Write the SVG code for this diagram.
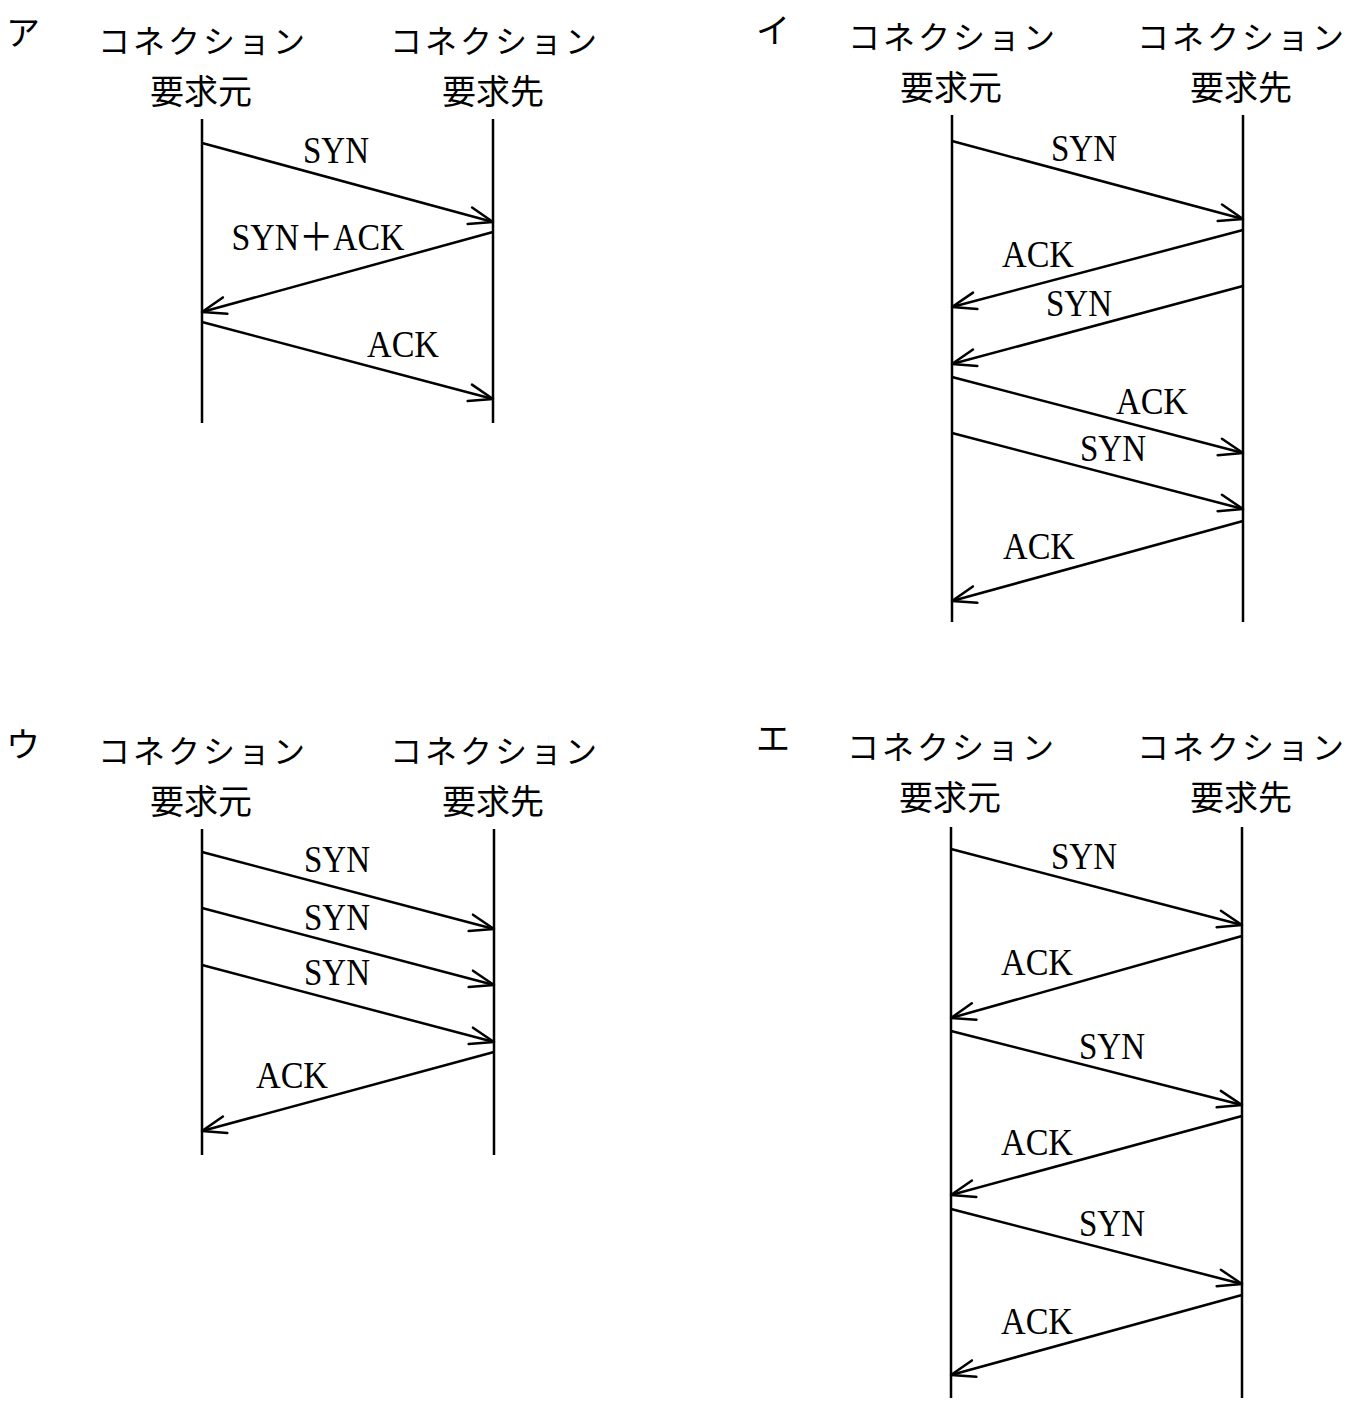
<svg xmlns="http://www.w3.org/2000/svg" width="1350" height="1414" viewBox="0 0 1350 1414">
<style>
.jp{font-family:"Noto Sans CJK JP","Noto Sans CJK SC",sans-serif;fill:#000}
.hk{font-size:32px;letter-spacing:3px;text-anchor:middle}
.hn{font-size:34px;text-anchor:middle}
.pl{font-size:34px}
.lbl{font-family:"Liberation Serif","Noto Sans CJK JP",serif;font-size:38px;text-anchor:middle;fill:#000}
.life{stroke:#000;stroke-width:2.5;fill:none}
.msg{stroke:#000;stroke-width:2.5;fill:none;marker-end:url(#ah)}
</style>
<defs>
<marker id="ah" markerUnits="userSpaceOnUse" markerWidth="40" markerHeight="40" refX="0" refY="0" orient="auto" overflow="visible">
<path d="M-24,-8.5 L0,0 L-24,8.5" fill="none" stroke="#000" stroke-width="2.5" stroke-linejoin="round" stroke-linecap="round"/>
</marker>
</defs>
<rect width="1350" height="1414" fill="#fff"/>

<!-- Panel ア -->
<g id="panel-a">
<text class="jp pl" x="6" y="45">ア</text>
<g id="a-src">
<text class="jp hk" x="203" y="53">コネクション</text>
<text class="jp hn" x="201" y="104">要求元</text>
<line class="life" x1="202" y1="119" x2="202" y2="423"/>
</g>
<g id="a-dst">
<text class="jp hk" x="495" y="53">コネクション</text>
<text class="jp hn" x="493" y="104">要求先</text>
<line class="life" x1="493" y1="119" x2="493" y2="423"/>
</g>
<g id="a-connectors">
<line class="msg" x1="202" y1="143" x2="493" y2="222"/>
<text class="lbl" x="336" y="163" textLength="66" lengthAdjust="spacingAndGlyphs">SYN</text>
<line class="msg" x1="493" y1="232" x2="202" y2="312"/>
<text class="lbl" x="318" y="250" textLength="173" lengthAdjust="spacingAndGlyphs">SYN＋ACK</text>
<line class="msg" x1="202" y1="322" x2="493" y2="399"/>
<text class="lbl" x="403" y="357" textLength="72" lengthAdjust="spacingAndGlyphs">ACK</text>
</g>
</g>

<!-- Panel イ -->
<g id="panel-i">
<text class="jp pl" x="756" y="43">イ</text>
<g id="i-src">
<text class="jp hk" x="953" y="49">コネクション</text>
<text class="jp hn" x="951" y="100">要求元</text>
<line class="life" x1="952" y1="115" x2="952" y2="622"/>
</g>
<g id="i-dst">
<text class="jp hk" x="1242" y="49">コネクション</text>
<text class="jp hn" x="1241" y="100">要求先</text>
<line class="life" x1="1243" y1="115" x2="1243" y2="622"/>
</g>
<g id="i-connectors">
<line class="msg" x1="952" y1="141" x2="1243" y2="219"/>
<text class="lbl" x="1084" y="161" textLength="66" lengthAdjust="spacingAndGlyphs">SYN</text>
<line class="msg" x1="1243" y1="230" x2="952" y2="307"/>
<text class="lbl" x="1038" y="267" textLength="72" lengthAdjust="spacingAndGlyphs">ACK</text>
<line class="msg" x1="1243" y1="286" x2="952" y2="364"/>
<text class="lbl" x="1079" y="316" textLength="66" lengthAdjust="spacingAndGlyphs">SYN</text>
<line class="msg" x1="952" y1="377" x2="1243" y2="453"/>
<text class="lbl" x="1152" y="414" textLength="72" lengthAdjust="spacingAndGlyphs">ACK</text>
<line class="msg" x1="952" y1="433" x2="1243" y2="509"/>
<text class="lbl" x="1113" y="461" textLength="66" lengthAdjust="spacingAndGlyphs">SYN</text>
<line class="msg" x1="1243" y1="521" x2="952" y2="601"/>
<text class="lbl" x="1039" y="559" textLength="72" lengthAdjust="spacingAndGlyphs">ACK</text>
</g>
</g>

<!-- Panel ウ -->
<g id="panel-u">
<text class="jp pl" x="6" y="757">ウ</text>
<g id="u-src">
<text class="jp hk" x="203" y="763">コネクション</text>
<text class="jp hn" x="201" y="814">要求元</text>
<line class="life" x1="202" y1="829" x2="202" y2="1155"/>
</g>
<g id="u-dst">
<text class="jp hk" x="495" y="763">コネクション</text>
<text class="jp hn" x="493" y="814">要求先</text>
<line class="life" x1="494" y1="829" x2="494" y2="1155"/>
</g>
<g id="u-connectors">
<line class="msg" x1="202" y1="852" x2="494" y2="929"/>
<text class="lbl" x="337" y="872" textLength="66" lengthAdjust="spacingAndGlyphs">SYN</text>
<line class="msg" x1="202" y1="908" x2="494" y2="985"/>
<text class="lbl" x="337" y="930" textLength="66" lengthAdjust="spacingAndGlyphs">SYN</text>
<line class="msg" x1="202" y1="965" x2="494" y2="1042"/>
<text class="lbl" x="337" y="985" textLength="66" lengthAdjust="spacingAndGlyphs">SYN</text>
<line class="msg" x1="494" y1="1052" x2="202" y2="1131"/>
<text class="lbl" x="292" y="1088" textLength="72" lengthAdjust="spacingAndGlyphs">ACK</text>
</g>
</g>

<!-- Panel エ -->
<g id="panel-e">
<text class="jp pl" x="756" y="751">エ</text>
<g id="e-src">
<text class="jp hk" x="952" y="759">コネクション</text>
<text class="jp hn" x="950" y="810">要求元</text>
<line class="life" x1="951" y1="827" x2="951" y2="1398"/>
</g>
<g id="e-dst">
<text class="jp hk" x="1242" y="759">コネクション</text>
<text class="jp hn" x="1241" y="810">要求先</text>
<line class="life" x1="1242" y1="827" x2="1242" y2="1398"/>
</g>
<g id="e-connectors">
<line class="msg" x1="951" y1="849" x2="1242" y2="925"/>
<text class="lbl" x="1084" y="869" textLength="66" lengthAdjust="spacingAndGlyphs">SYN</text>
<line class="msg" x1="1242" y1="936" x2="951" y2="1018"/>
<text class="lbl" x="1037" y="975" textLength="72" lengthAdjust="spacingAndGlyphs">ACK</text>
<line class="msg" x1="951" y1="1031" x2="1242" y2="1105"/>
<text class="lbl" x="1112" y="1059" textLength="66" lengthAdjust="spacingAndGlyphs">SYN</text>
<line class="msg" x1="1242" y1="1116" x2="951" y2="1195"/>
<text class="lbl" x="1037" y="1155" textLength="72" lengthAdjust="spacingAndGlyphs">ACK</text>
<line class="msg" x1="951" y1="1209" x2="1242" y2="1284"/>
<text class="lbl" x="1112" y="1236" textLength="66" lengthAdjust="spacingAndGlyphs">SYN</text>
<line class="msg" x1="1242" y1="1295" x2="951" y2="1375"/>
<text class="lbl" x="1037" y="1334" textLength="72" lengthAdjust="spacingAndGlyphs">ACK</text>
</g>
</g>
</svg>
